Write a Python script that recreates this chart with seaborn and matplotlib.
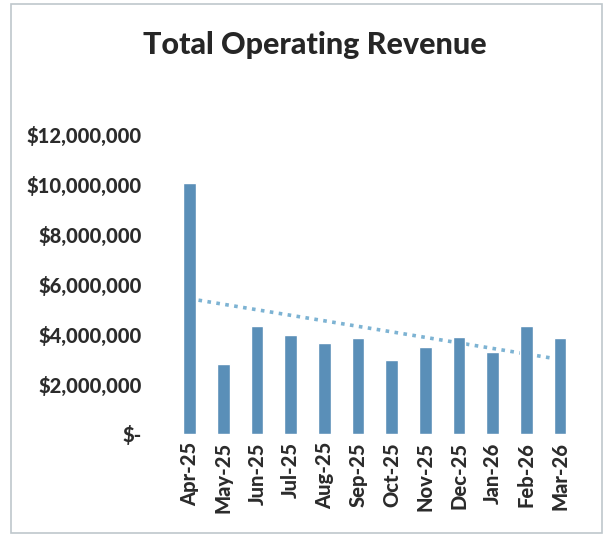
import numpy as np
import pandas as pd
import seaborn as sns
import matplotlib.pyplot as plt
from matplotlib.patches import Rectangle
from matplotlib.ticker import FuncFormatter

months = ['Apr-25', 'May-25', 'Jun-25', 'Jul-25', 'Aug-25', 'Sep-25',
          'Oct-25', 'Nov-25', 'Dec-25', 'Jan-26', 'Feb-26', 'Mar-26']
revenue = [10050000, 2790000, 4320000, 3960000, 3630000, 3830000,
           2960000, 3470000, 3890000, 3290000, 4330000, 3850000]

df = pd.DataFrame({'Month': months, 'Revenue': revenue})

sns.set_style('white')
plt.rcParams['font.family'] = ['Lato', 'DejaVu Sans']

fig = plt.figure(figsize=(6.06, 5.37), dpi=100)
ax = fig.add_axes([0.271, 0.192, 0.695, 0.558])

sns.barplot(data=df, x='Month', y='Revenue', color='#5a8fb8', width=0.37,
            saturation=1, ax=ax, zorder=2)

# linear trendline, drawn behind the bars
x = np.arange(len(months))
slope, intercept = np.polyfit(x, revenue, 1)
ax.plot(x, slope * x + intercept, linestyle=(0, (1, 1.5)), color='#7db3d3',
        linewidth=2.6, zorder=1)

ax.set_ylim(0, 12000000)
ax.set_yticks(range(0, 12000001, 2000000))
ax.yaxis.set_major_formatter(FuncFormatter(
    lambda v, p: '$-' if v == 0 else f'${v:,.0f}'))
ax.set_xlabel('')
ax.set_ylabel('')
for s in ax.spines.values():
    s.set_visible(False)
ax.tick_params(axis='y', labelsize=14.5, colors='#2b2b2b', pad=16, length=0)
ax.tick_params(axis='x', labelsize=14.5, colors='#2b2b2b', rotation=90,
               length=0, pad=6)
for lbl in ax.get_xticklabels() + ax.get_yticklabels():
    lbl.set_fontweight('black')

fig.text(0.52, 0.917, 'Total Operating Revenue', ha='center', va='center',
         fontsize=22, fontweight='black', color='#262626')

fig.patches.append(Rectangle((0.018, 0.008), 0.975, 0.985,
                             transform=fig.transFigure, fill=False,
                             edgecolor='#bfc7cc', linewidth=1.2))

fig.savefig('out.png', dpi=100)
